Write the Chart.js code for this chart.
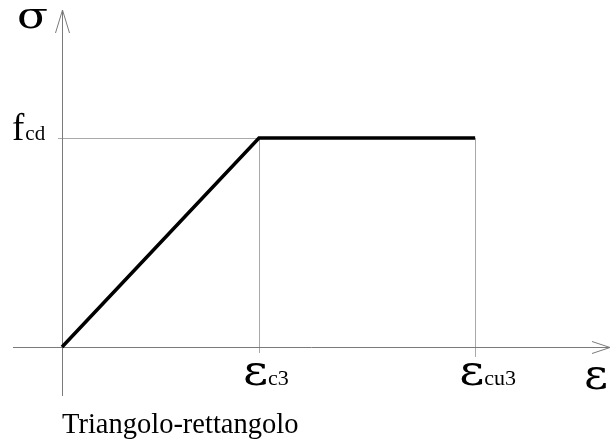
<!DOCTYPE html>
<html>
<head>
<meta charset="utf-8">
<script src="https://cdn.jsdelivr.net/npm/chart.js@4.4.1/dist/chart.umd.min.js"></script>
<style>
html,body{margin:0;padding:0;background:#fff;}
#wrap{width:611px;height:443px;position:relative;}
</style>
</head>
<body>
<div id="wrap"><canvas id="c"></canvas></div>
<script>
// Data (schematic)
const strainPoints = [0, 1.75, 3.67];          // 0, εc3, εcu3
const stressPoints = [0, 1, 1];                // 0, fcd, fcd
const strainTickMain = ['ε', 'ε'];
const strainTickSub = ['c3', 'cu3'];
const strainTickValues = [1.75, 3.67];
const stressTickMain = ['f'];
const stressTickSub = ['cd'];
const stressTickValues = [1];
const axisLabelX = 'ε';
const axisLabelY = 'σ';
const captionText = 'Triangolo-rettangolo';

const SERIF = '"Liberation Serif", "Times New Roman", serif';
const GREEK = '"DejaVu Serif", "Liberation Serif", serif';

function greek(ctx, t, x, y, size, sx) {
  ctx.save();
  ctx.font = size + 'px ' + GREEK;
  ctx.translate(x, y);
  ctx.scale(sx, 1);
  ctx.fillText(t, 0, 0);
  const w = ctx.measureText(t).width * sx;
  ctx.restore();
  return w;
}

const diagramPlugin = {
  id: 'diagram',
  beforeDatasetsDraw(chart) {
    const ctx = chart.ctx;
    const xs = chart.scales.x, ys = chart.scales.y;
    const x0 = xs.getPixelForValue(0), y0 = ys.getPixelForValue(0);
    const W = chart.width;
    ctx.save();
    // guide lines
    ctx.strokeStyle = '#a8a8a8';
    ctx.lineWidth = 1;
    stressTickValues.forEach(v => {
      const py = Math.round(ys.getPixelForValue(v)) + 0.5;
      ctx.beginPath();
      ctx.moveTo(x0 - 4, py);
      ctx.lineTo(xs.getPixelForValue(strainTickValues[0]), py);
      ctx.stroke();
    });
    const yTop = ys.getPixelForValue(stressTickValues[0]);
    const overs = [6, 10];
    strainTickValues.forEach((v, i) => {
      const px = Math.round(xs.getPixelForValue(v)) + 0.5;
      ctx.beginPath();
      ctx.moveTo(px, yTop);
      ctx.lineTo(px, y0 + overs[i]);
      ctx.stroke();
    });
    // axes
    ctx.strokeStyle = '#7a7a7a';
    const ax = Math.round(x0) + 0.5, ay = Math.round(y0) + 0.5;
    ctx.beginPath();
    ctx.moveTo(13, ay); ctx.lineTo(W - 1, ay);
    ctx.moveTo(ax, 10); ctx.lineTo(ax, y0 + 49);
    ctx.stroke();
    // arrowheads
    ctx.beginPath();
    ctx.moveTo(W - 19, ay - 6); ctx.lineTo(W - 1, ay); ctx.lineTo(W - 19, ay + 6);
    ctx.moveTo(ax - 7, 33); ctx.lineTo(ax, 10); ctx.lineTo(ax + 7, 33);
    ctx.stroke();

    // text
    ctx.fillStyle = '#000';
    ctx.textBaseline = 'alphabetic';
    ctx.textAlign = 'left';
    greek(ctx, axisLabelY, 17, 28, 35, 1.3);
    // y tick label
    stressTickValues.forEach((v, i) => {
      const py = ys.getPixelForValue(v) + 2;
      ctx.font = '37px ' + SERIF;
      ctx.fillText(stressTickMain[i], 12, py);
      const w = ctx.measureText(stressTickMain[i]).width;
      ctx.font = '21px ' + SERIF;
      ctx.fillText(stressTickSub[i], 12 + w + 1, py);
    });
    // x tick labels
    strainTickValues.forEach((v, i) => {
      const px = xs.getPixelForValue(v);
      const w = greek(ctx, strainTickMain[i], px - 16, y0 + 38, 42, 1.15);
      ctx.font = '22px ' + SERIF;
      ctx.fillText(strainTickSub[i], px - 16 + w, y0 + 38);
    });
    greek(ctx, axisLabelX, 584, y0 + 42, 42, 1.1);
    ctx.font = '28.5px ' + SERIF;
    ctx.fillText(captionText, x0, y0 + 86);
    ctx.restore();
  }
};

const pxPerX = 112.57, x0px = 62, W = 611;
const pxPerY = 209, y0px = 347, H = 443;

new Chart(document.getElementById('c'), {
  type: 'scatter',
  data: {
    datasets: [{
      data: strainPoints.map((x, i) => ({ x: x, y: stressPoints[i] })),
      showLine: true,
      borderColor: '#000',
      borderWidth: 3.5,
      pointRadius: 0,
      tension: 0,
      fill: false,
      borderJoinStyle: 'miter'
    }]
  },
  options: {
    responsive: true,
    maintainAspectRatio: false,
    animation: false,
    layout: { padding: 0 },
    plugins: { legend: { display: false }, tooltip: { enabled: false }, title: { display: false } },
    scales: {
      x: { type: 'linear', display: false, min: -x0px / pxPerX, max: (W - x0px) / pxPerX },
      y: { type: 'linear', display: false, min: -(H - y0px) / pxPerY, max: y0px / pxPerY }
    }
  },
  plugins: [diagramPlugin]
});
</script>
</body>
</html>
